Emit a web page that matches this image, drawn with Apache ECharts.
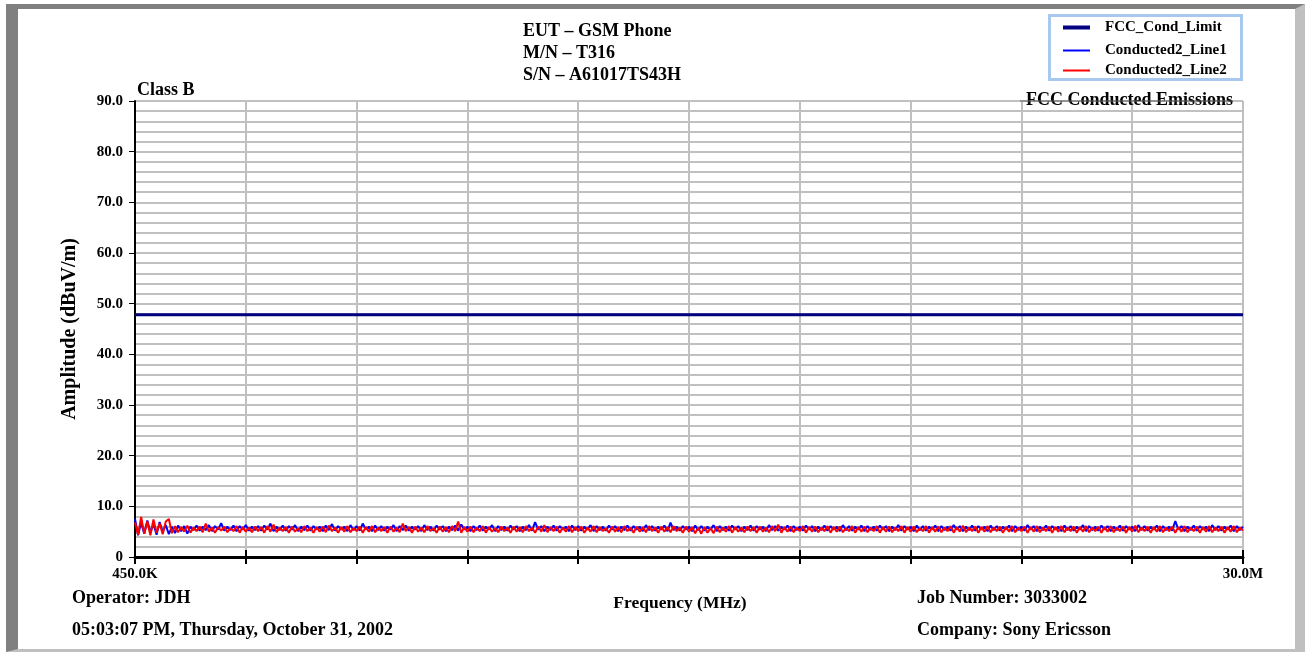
<!DOCTYPE html>
<html>
<head>
<meta charset="utf-8">
<script src="https://cdn.jsdelivr.net/npm/echarts@6/dist/echarts.min.js"></script>
<style>
  html, body { margin: 0; padding: 0; background: #fff; }
  #chart { position: absolute; left: 0; top: 0; width: 1305px; height: 652px; }
  #frame { position: absolute; left: 6px; top: 4px; width: 1299px; height: 648px; box-sizing: border-box;
           border-top: 5px solid #808080; border-left: 12px solid #808080;
           border-right: 10px solid #c0c0c0; border-bottom: 3px solid #c0c0c0; pointer-events: none; }
</style>
</head>
<body>
<div id="chart"></div>
<div id="frame"></div>
<script>
// ---------- data ----------
const FREQ_START_MHZ = 0.45;
const FREQ_STOP_MHZ = 30.0;
const N_POINTS = 361;
const freqLabels = Array.from({ length: N_POINTS }, (_, i) => {
  const f = FREQ_START_MHZ + (FREQ_STOP_MHZ - FREQ_START_MHZ) * i / (N_POINTS - 1);
  return f < 1 ? (f * 1000).toFixed(1) + 'K' : f.toFixed(1) + 'M';
});

const titleLines = ['EUT \u2013 GSM Phone', 'M/N \u2013 T316', 'S/N \u2013 A61017TS43H'];
const seriesNames = ['FCC_Cond_Limit', 'Conducted2_Line1', 'Conducted2_Line2'];
const yTickValues = [0, 10, 20, 30, 40, 50, 60, 70, 80, 90];
const limitLevel = 47.8;

const line1Values = [
7.5,4.3,6.8,4.6,7.2,4.9,6.5,4.4,6.9,5.0,6.3,4.5,6.0,4.7,6.2,5.1,6.1,4.6,6.0,5.3,
6.2,5.2,6.0,5.3,6.3,5.1,6.1,5.4,6.7,5.2,6.0,5.3,6.2,5.1,6.1,5.4,6.3,5.2,6.0,5.3,
6.1,5.2,6.2,5.4,6.6,5.1,6.0,5.3,6.2,5.2,6.1,5.4,6.3,5.1,6.0,5.3,6.2,5.2,6.1,5.4,
6.0,5.1,6.2,5.3,6.5,5.2,6.1,5.4,6.0,5.1,6.3,5.3,6.1,5.2,6.6,5.4,6.0,5.1,6.2,5.3,
6.1,5.2,6.0,5.4,6.3,5.1,6.1,5.3,6.2,5.2,6.0,5.4,6.1,5.1,6.3,5.3,6.0,5.2,6.2,5.4,
6.1,5.1,6.0,5.3,6.2,5.2,6.4,5.4,6.0,5.1,6.1,5.3,6.2,5.2,6.0,5.4,6.3,5.1,6.1,5.3,
6.0,5.2,6.2,5.4,6.1,5.1,6.0,5.3,6.3,5.2,6.9,5.4,6.1,5.1,6.0,5.3,6.2,5.2,6.1,5.4,
6.0,5.1,6.2,5.3,6.1,5.2,6.0,5.4,6.3,5.1,6.1,5.3,6.0,5.2,6.2,5.4,6.1,5.1,6.0,5.3,
6.2,5.2,6.1,5.4,6.0,5.1,6.3,5.3,6.1,5.2,6.0,5.4,6.2,5.1,6.8,5.3,6.0,5.2,6.1,5.4,
6.0,5.1,6.2,5.3,6.1,5.2,6.0,5.4,6.3,5.1,6.1,5.3,6.0,5.2,6.2,5.4,6.1,5.1,6.0,5.3,
6.2,5.2,6.1,5.4,6.0,5.1,6.3,5.3,6.1,5.2,6.0,5.4,6.2,5.1,6.1,5.3,6.0,5.2,6.2,5.4,
6.1,5.1,6.0,5.3,6.2,5.2,6.1,5.4,6.0,5.1,6.3,5.3,6.1,5.2,6.0,5.4,6.2,5.1,6.1,5.3,
6.0,5.2,6.2,5.4,6.1,5.1,6.0,5.3,6.3,5.2,6.1,5.4,6.0,5.1,6.2,5.3,6.1,5.2,6.0,5.4,
6.2,5.1,6.1,5.3,6.0,5.2,6.3,5.4,6.1,5.1,6.0,5.3,6.2,5.2,6.1,5.4,6.0,5.1,6.2,5.3,
6.1,5.2,6.0,5.4,6.2,5.1,6.1,5.3,6.0,5.2,6.3,5.4,6.1,5.1,6.0,5.3,6.2,5.2,6.1,5.4,
6.0,5.1,6.2,5.3,6.1,5.2,6.0,5.4,6.3,5.1,6.1,5.3,6.0,5.2,6.2,5.4,6.1,5.1,6.0,5.3,
6.2,5.2,6.1,5.4,6.0,5.1,6.3,5.3,6.1,5.2,6.0,5.4,6.2,5.1,6.1,5.3,6.0,5.2,7.1,5.4,
6.1,5.1,6.0,5.3,6.2,5.2,6.1,5.4,6.0,5.1,6.3,5.3,6.1,5.2,6.0,5.4,6.2,5.1,6.1,5.3,
6.0
];

const line2Values = [
6.8,4.4,7.9,4.6,7.0,4.3,7.4,4.8,6.6,4.5,7.0,7.5,4.7,6.1,4.9,5.9,5.0,6.2,4.8,5.8,
5.1,6.0,4.9,6.6,5.0,5.8,4.8,5.9,5.2,6.0,4.9,5.7,5.1,6.1,4.8,5.9,5.0,5.8,4.9,6.0,
5.1,5.9,4.8,6.1,5.0,6.4,4.9,5.8,5.1,5.9,4.8,6.0,5.0,5.7,4.9,6.1,5.1,5.8,4.8,5.9,
5.0,6.0,4.9,6.2,5.1,5.8,4.8,5.9,5.0,6.1,4.9,5.7,5.1,6.0,4.8,5.9,5.0,6.1,4.9,5.8,
5.1,5.9,4.8,6.0,5.0,5.8,4.9,6.6,5.1,5.9,4.8,6.0,5.0,5.8,4.9,6.1,5.1,5.7,4.8,6.0,
5.0,5.9,4.9,6.1,5.1,7.0,4.8,5.9,5.0,6.0,4.9,5.8,5.1,6.1,4.8,5.9,5.0,5.7,4.9,6.0,
5.1,5.8,4.8,6.0,5.0,5.9,4.9,6.1,5.1,5.8,4.8,6.0,5.0,6.3,4.9,5.9,5.1,6.0,4.8,5.8,
5.0,6.1,4.9,5.9,5.1,6.0,4.8,5.8,5.0,6.1,4.9,5.9,5.1,5.7,4.8,6.0,5.0,5.9,4.9,6.1,
5.1,5.8,4.8,6.0,5.0,5.9,4.9,6.1,5.1,5.8,4.8,6.0,5.0,5.9,4.9,6.1,5.1,5.8,4.8,6.0,
5.0,5.9,4.7,5.8,4.6,5.9,4.8,5.7,4.7,6.0,4.9,5.8,5.0,6.1,4.8,5.9,5.0,5.8,4.9,6.0,
5.1,5.9,4.8,6.0,5.0,5.8,4.9,6.1,5.1,6.4,4.8,5.9,5.0,6.0,4.9,5.8,5.1,6.1,4.8,5.9,
5.0,6.0,4.9,5.8,5.1,6.1,4.8,5.9,5.0,6.0,4.9,5.7,5.1,6.1,4.8,5.9,5.0,6.0,4.9,5.8,
5.1,6.1,4.8,5.9,5.0,6.0,4.9,5.8,5.1,6.1,4.8,5.9,5.0,6.0,4.9,5.7,5.1,6.1,4.8,5.9,
5.0,6.0,4.9,5.8,5.1,6.1,4.8,5.9,5.0,6.2,4.9,5.8,5.1,6.0,4.8,5.9,5.0,6.1,4.9,5.8,
5.1,6.0,4.8,5.9,5.0,6.1,4.9,5.8,5.1,6.0,4.8,5.9,5.0,6.1,4.9,5.8,5.1,6.0,4.8,5.9,
5.0,6.1,4.9,5.8,5.1,6.0,4.8,5.9,5.0,6.1,4.9,5.8,5.1,6.0,4.8,5.9,5.0,6.1,4.9,5.8,
5.1,6.0,4.8,5.9,5.0,6.2,4.9,5.8,5.1,6.0,4.8,5.9,5.0,6.1,4.9,5.8,5.1,6.0,4.8,5.9,
5.0,6.1,4.9,5.8,5.1,6.0,4.8,5.9,5.0,6.1,4.9,5.8,5.1,6.0,4.8,5.9,5.0,6.1,4.9,5.8,
5.2
];

// ---------- chart ----------
const FONT = '"Liberation Serif", "Times New Roman", serif';
const GRID_COLOR = '#c0c0c0';
const LAST = N_POINTS - 1;
const DIV = 36;

const chart = echarts.init(document.getElementById('chart'), null, { renderer: 'canvas', width: 1305, height: 652 });

function txt(text, x, y, align, size) {
  return {
    type: 'text', x: x, y: y, z: 100,
    style: { text: text, font: 'bold ' + (size || 18) + 'px ' + FONT, fill: '#000',
             textAlign: align || 'left', textVerticalAlign: 'middle' }
  };
}

const legendText = { fontFamily: FONT, fontWeight: 'bold', fontSize: 15, color: '#000', padding: [0, 0, 0, 10] };

const option = {
  backgroundColor: '#ffffff',
  animation: false,
  grid: { left: 135, top: 101, right: 62, bottom: 95, containLabel: false },
  legend: [{
    z: 200, zlevel: 0,
    orient: 'vertical',
    left: 1063, top: 20, padding: 0,
    itemWidth: 27, itemHeight: 4,
    icon: 'rect',
    data: [seriesNames[0]],
    textStyle: legendText
  }, {
    z: 200, zlevel: 0,
    orient: 'vertical',
    left: 1063, top: 43, padding: 0,
    itemWidth: 27, itemHeight: 2, itemGap: 5,
    icon: 'rect',
    data: [seriesNames[1], seriesNames[2]],
    textStyle: legendText
  }],
  xAxis: [{
    type: 'category',
    data: freqLabels,
    boundaryGap: false,
    axisLine: { show: true, lineStyle: { color: '#000', width: 3 } },
    axisTick: { show: true, interval: DIV - 1, length: 7, lineStyle: { color: '#000', width: 2 } },
    axisLabel: {
      interval: (i) => i === 0 || i === LAST,
      margin: 10,
      fontFamily: FONT, fontWeight: 'bold', fontSize: 15, color: '#000'
    },
    splitLine: { show: true, interval: DIV - 1, lineStyle: { color: GRID_COLOR, width: 2 } }
  }, {
    type: 'category',
    data: freqLabels,
    boundaryGap: false,
    position: 'bottom',
    axisLine: { show: false },
    axisTick: { show: true, inside: true, interval: DIV - 1, length: 7, lineStyle: { color: '#000', width: 2 } },
    axisLabel: { show: false },
    splitLine: { show: false }
  }],
  yAxis: {
    type: 'value',
    min: yTickValues[0], max: yTickValues[yTickValues.length - 1], interval: 10,
    name: 'Amplitude (dBuV/m)',
    nameLocation: 'middle', nameGap: 55, nameRotate: 90,
    nameTextStyle: { fontFamily: FONT, fontWeight: 'bold', fontSize: 20, color: '#000' },
    axisLine: { show: true, lineStyle: { color: '#000', width: 2 } },
    axisTick: { show: true, length: 6, lineStyle: { color: '#000', width: 1 } },
    axisLabel: {
      margin: 12,
      formatter: (v) => (v === 0 ? '0' : v.toFixed(1)),
      fontFamily: FONT, fontWeight: 'bold', fontSize: 15, color: '#000'
    },
    splitLine: { show: true, lineStyle: { color: GRID_COLOR, width: 2 } },
    minorTick: { show: false, splitNumber: 5 },
    minorSplitLine: { show: true, lineStyle: { color: GRID_COLOR, width: 2 } }
  },
  series: [{
    name: seriesNames[0],
    type: 'line',
    symbol: 'none',
    data: [[freqLabels[0], limitLevel], [freqLabels[LAST], limitLevel]],
    lineStyle: { color: '#000080', width: 3 },
    itemStyle: { color: '#000080' },
    z: 5
  }, {
    name: seriesNames[1],
    type: 'line',
    symbol: 'none',
    data: line1Values,
    lineStyle: { color: '#0000ff', width: 2 },
    itemStyle: { color: '#0000ff' },
    z: 3
  }, {
    name: seriesNames[2],
    type: 'line',
    symbol: 'none',
    data: line2Values,
    lineStyle: { color: '#ff0000', width: 2 },
    itemStyle: { color: '#ff0000' },
    z: 4
  }],
  graphic: {
    z: 1,
    elements: [
      { type: 'rect', shape: { x: 1049.5, y: 15.5, width: 192, height: 64 },
        style: { fill: '#ffffff', stroke: '#a8c8f0', lineWidth: 3 } },
      txt(titleLines[0], 523, 31),
      txt(titleLines[1], 523, 53),
      txt(titleLines[2], 523, 75),
      txt('Class B', 137, 90),
      txt('FCC Conducted Emissions', 1233, 100, 'right'),
      { type: 'line', z: 101, shape: { x1: 1020, y1: 101, x2: 1233, y2: 101 }, style: { stroke: '#666', lineWidth: 1 } },
      txt('Frequency (MHz)', 680, 603, 'center', 17.5),
      txt('Operator: JDH', 72, 598),
      txt('05:03:07 PM, Thursday, October 31, 2002', 72, 630),
      txt('Job Number: 3033002', 917, 598),
      txt('Company: Sony Ericsson', 917, 630)
    ]
  }
};

chart.setOption(option);
</script>
</body>
</html>
